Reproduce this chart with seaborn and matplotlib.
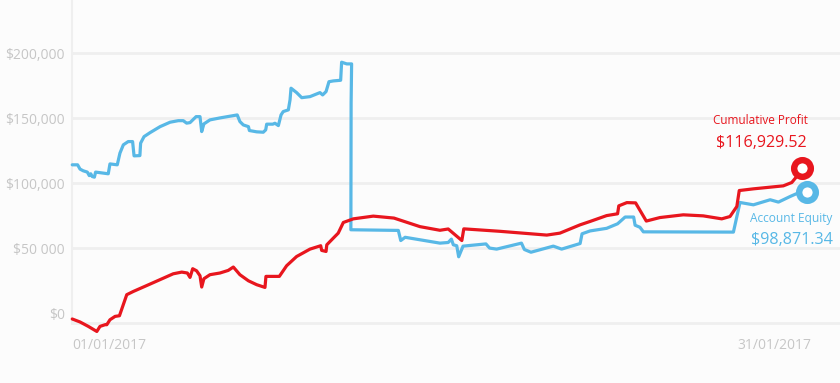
import matplotlib
matplotlib.use("Agg")
import matplotlib.pyplot as plt
import seaborn as sns
import pandas as pd
import numpy as np

# ---- data (days since 01/01/2017, values in $ thousands) ----
equity_days = [0.01, 0.23, 0.33, 0.46, 0.63, 0.71, 0.77, 0.83, 0.92, 0.97, 1.49, 1.56, 1.86, 1.97,
               2.11, 2.31, 2.49, 2.55, 2.79, 2.82, 2.96, 3.21, 3.62, 4.03, 4.37, 4.57, 4.71, 4.85,
               5.10, 5.26, 5.33, 5.42, 5.67, 6.08, 6.79, 6.90, 7.04, 7.25, 7.29, 7.59, 7.86, 7.96,
               8.00, 8.25, 8.34, 8.48, 8.59, 8.68, 8.89, 8.96, 9.00, 9.23, 9.44, 9.78, 10.19, 10.30,
               10.44, 10.56, 10.74, 11.04, 11.08, 11.29, 11.49, 11.47, 11.46, 13.41, 13.51, 13.69,
               15.12, 15.46, 15.59, 15.67, 15.81, 15.89, 16.07, 17.01, 17.16, 17.45, 18.47, 18.59,
               18.86, 19.78, 20.12, 20.88, 20.96, 21.29, 21.97, 22.42, 22.73, 23.08, 23.14, 23.34,
               23.48, 27.18, 27.45, 28.00, 28.69, 29.03, 29.51, 29.92, 30.22]
equity_k = [114.1, 114.1, 110.8, 109.5, 108.5, 105.8, 107.2, 105.1, 104.6, 108.5, 107.2, 114.8, 114.1, 123.1,
            129.5, 132.0, 132.0, 121.0, 121.2, 130.8, 135.8, 138.9, 143.5, 146.9, 148.1, 148.1, 146.2, 146.6,
            151.2, 151.2, 139.7, 145.6, 148.7, 150.2, 152.5, 147.4, 144.8, 143.5, 140.5, 139.5, 139.2, 141.0,
            145.4, 145.4, 146.1, 144.3, 152.5, 155.1, 156.4, 164.1, 173.1, 169.7, 165.8, 166.6, 169.7, 167.9,
            170.5, 178.1, 178.7, 179.2, 193.1, 191.8, 191.8, 161.8, 64.1, 63.6, 55.8, 58.3,
            53.8, 54.3, 56.9, 52.5, 51.8, 43.3, 51.5, 53.2, 50.0, 49.2, 53.8, 48.9,
            46.8, 51.5, 49.2, 53.5, 61.0, 63.2, 65.2, 68.7, 73.9, 73.9, 67.6, 66.0,
            62.5, 62.3, 85.1, 83.3, 87.2, 85.4, 89.7, 93.1, 93.5]

profit_days = [0.01, 0.33, 0.67, 1.02, 1.15, 1.36, 1.43, 1.56, 1.77, 1.95, 2.25, 2.52, 3.21, 4.16,
               4.51, 4.74, 4.85, 4.96, 5.12, 5.26, 5.33, 5.42, 5.67, 6.08, 6.42, 6.63, 6.90, 7.25,
               7.59, 7.93, 7.97, 8.52, 8.82, 9.23, 9.78, 10.22, 10.26, 10.44, 10.47, 10.74, 10.94,
               11.15, 11.56, 12.38, 13.23, 14.30, 15.12, 15.46, 16.02, 16.10, 17.59, 19.51, 20.05,
               20.88, 21.29, 21.97, 22.42, 22.47, 22.80, 23.16, 23.60, 24.16, 25.12, 25.94, 26.70,
               27.04, 27.32, 27.42, 28.00, 29.23, 29.58, 29.78, 29.99]
profit_k = [-4.6, -6.9, -10.3, -14.2, -10.3, -9.0, -9.0, -5.2, -2.6, -2.1, 14.1, 16.6, 22.3, 30.2,
            31.5, 30.8, 27.4, 34.1, 32.5, 28.7, 20.0, 26.4, 29.5, 30.8, 32.8, 35.4, 29.5, 24.8,
            21.8, 19.7, 28.2, 28.2, 36.4, 43.5, 49.2, 51.8, 48.2, 47.4, 52.5, 57.7, 61.5,
            69.7, 72.5, 74.6, 73.1, 66.5, 63.7, 64.7, 55.8, 64.8, 62.9, 60.0, 61.5,
            67.9, 70.5, 75.0, 76.4, 82.5, 85.0, 84.8, 70.8, 73.5, 75.6, 74.8, 72.5,
            74.3, 82.0, 94.3, 95.6, 97.9, 100.5, 105.1, 111.5]

y_ticks = [0, 50000, 100000, 150000, 200000]
y_tick_labels = ["$0", "$50 000", "$100,000", "$150,000", "$200,000"]
x_tick_labels = ["01/01/2017", "31/01/2017"]
profit_title, profit_value = "Cumulative Profit", "$116,929.52"
equity_title, equity_value = "Account Equity", "$98,871.34"

RED = "#e8161e"
BLUE = "#58b8e6"
GRID = "#efefef"
TXT = "#c6c6c6"
BG = "#fcfcfc"

df = pd.concat([
    pd.DataFrame({"day": equity_days, "value": np.array(equity_k) * 1000, "series": equity_title}),
    pd.DataFrame({"day": profit_days, "value": np.array(profit_k) * 1000, "series": profit_title}),
], ignore_index=True)

sns.set_theme(style="white")
plt.rcParams["font.family"] = ["Open Sans", "DejaVu Sans"]

fig = plt.figure(figsize=(8.4, 3.83), dpi=100, facecolor=BG)
ax = fig.add_axes([72 / 840, 60 / 383, 1 - 72 / 840, 323 / 383])
ax.set_facecolor(BG)

sns.lineplot(data=df, x="day", y="value", hue="series", sort=False, estimator=None,
             palette={equity_title: BLUE, profit_title: RED}, linewidth=2.3,
             legend=False, ax=ax, zorder=3)
for ln in ax.lines:
    ln.set_clip_on(False)

# end markers
for days, vals, col in [(equity_days, equity_k, BLUE), (profit_days, profit_k, RED)]:
    ax.plot(days[-1], vals[-1] * 1000, marker="o", markersize=12, markeredgewidth=4.6,
            markerfacecolor="white", markeredgecolor=col, zorder=5, clip_on=False)

ax.set_xlim(0, 31.56)
ax.set_ylim(-7690, 241000)

ax.set_yticks(y_ticks)
ax.set_yticklabels(y_tick_labels)
ax.set_xticks([0, 30.4])
ax.set_xticklabels(x_tick_labels)
lbls = ax.get_xticklabels()
lbls[0].set_ha("left")
lbls[1].set_ha("right")

ax.tick_params(axis="y", length=0, pad=5, labelsize=10, labelcolor=TXT)
ax.tick_params(axis="x", length=0, pad=11, labelsize=10, labelcolor=TXT)

ax.grid(axis="y", color=GRID, linewidth=2)
ax.yaxis.get_gridlines()[0].set_visible(False)
ax.set_axisbelow(True)

for s in ["top", "right"]:
    ax.spines[s].set_visible(False)
ax.spines["left"].set_color(GRID)
ax.spines["left"].set_linewidth(1.5)
ax.spines["bottom"].set_color(GRID)
ax.spines["bottom"].set_linewidth(2)
ax.spines["bottom"].set_zorder(1)

ax.set_xlabel("")
ax.set_ylabel("")

# annotations near the end points
pe = (profit_days[-1], profit_k[-1] * 1000)
ee = (equity_days[-1], equity_k[-1] * 1000)
ax.annotate(profit_title, xy=pe, xytext=(-30, 34), textcoords="offset points",
            ha="center", va="center", color=RED, fontsize=8.5)
ax.annotate(profit_value, xy=pe, xytext=(-29.5, 18), textcoords="offset points",
            ha="center", va="center", color=RED, fontsize=11.6)
ax.annotate(equity_title, xy=ee, xytext=(-11.5, -19.5), textcoords="offset points",
            ha="center", va="center", color=BLUE, fontsize=8.6)
ax.annotate(equity_value, xy=ee, xytext=(-11, -35), textcoords="offset points",
            ha="center", va="center", color=BLUE, fontsize=11.6)

fig.savefig("out.png", dpi=100, facecolor=BG)
